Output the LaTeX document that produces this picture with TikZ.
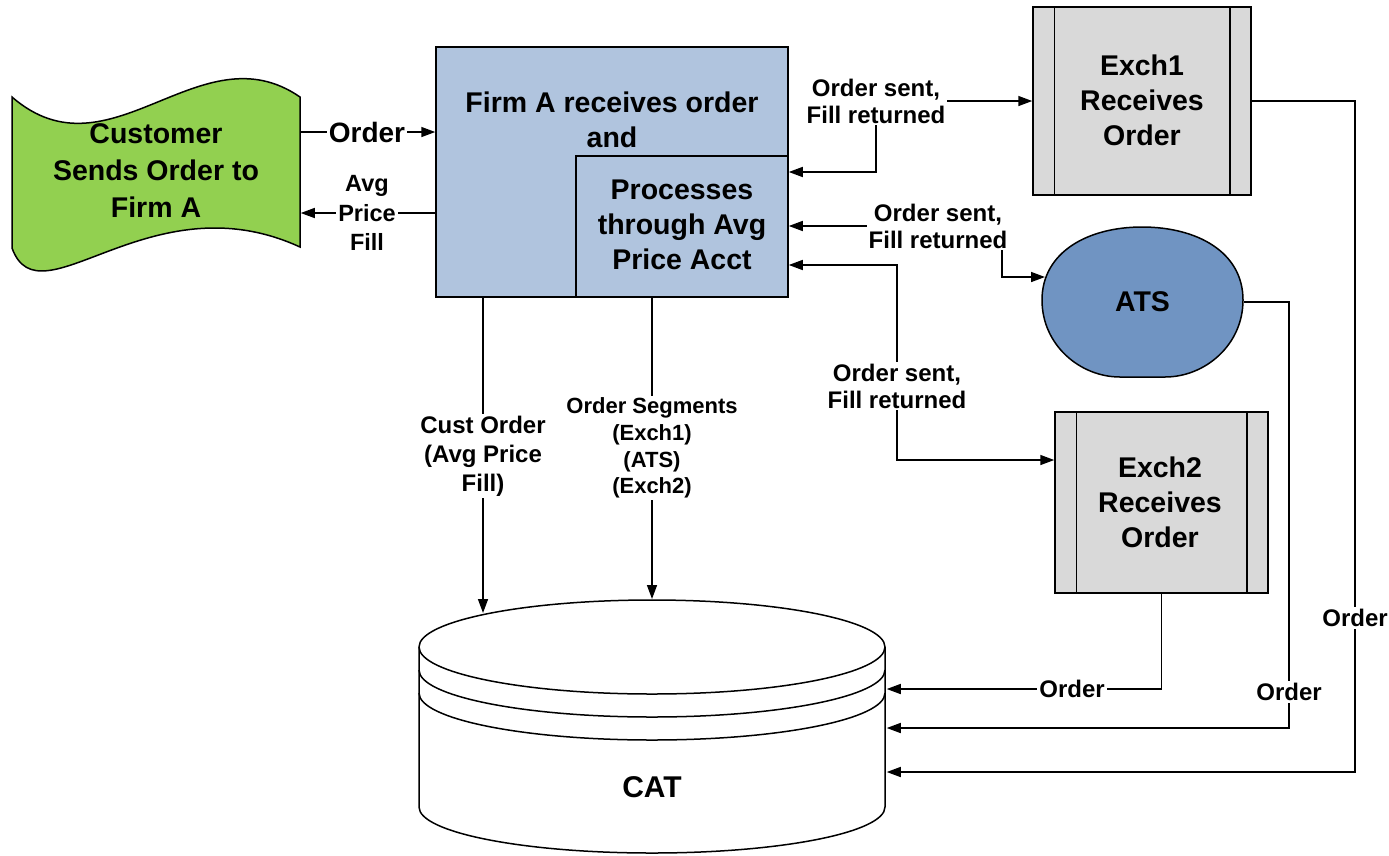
\documentclass[tikz,border=0pt]{standalone}
\usepackage{fontspec}
\setmainfont{Liberation Sans}
\usetikzlibrary{arrows.meta,calc}
\definecolor{custgreen}{HTML}{92D050}
\definecolor{firmblue}{HTML}{B0C4DE}
\definecolor{atsblue}{HTML}{7094C2}
\definecolor{exgray}{HTML}{D9D9D9}
\begin{document}
\begin{tikzpicture}[x=1pt,y=-1pt,line width=1.5pt,
  big/.style={font=\bfseries\fontsize{28.5}{35}\selectfont,align=center,inner sep=0pt},
  lbl/.style={font=\bfseries\fontsize{24}{27}\selectfont,align=center,fill=white,inner sep=2pt},
  lblbig/.style={font=\bfseries\fontsize{28}{34}\selectfont,align=center,fill=white,inner sep=2pt},
  box/.style={draw,inner sep=0pt},
  conn/.style={draw=black,line width=1.5pt,-{Triangle[length=14pt,width=10pt]}},
  conntwo/.style={draw=black,line width=1.5pt,{Triangle[length=14pt,width=10pt]}-{Triangle[length=14pt,width=10pt]}}]
\useasboundingbox (0,0) rectangle (1389,855);

% label positions and junctions
\coordinate (lOrd) at (367,132);
\coordinate (lAvg) at (367,213);
\coordinate (l1) at (876,101);
\coordinate (j1) at (876,172);
\coordinate (l2) at (938,226);
\coordinate (j2) at (1002,226);
\coordinate (j2b) at (1002,277);
\coordinate (atsW) at (1045,277);
\coordinate (l3) at (897,386);
\coordinate (j3) at (897,265);
\coordinate (j3b) at (897,460);
\coordinate (lCust) at (483,456);
\coordinate (lSeg) at (652,448);
\coordinate (catTopA) at (483,613);
\coordinate (catTopB) at (652,599);
\coordinate (lO1) at (1355,618);
\coordinate (j4) at (1355,772);
\coordinate (lO2) at (1289,692);
\coordinate (j5) at (1289,728);
\coordinate (lO3) at (1072,689);

% Customer (wavy document)
\draw[fill=custgreen] (12,97) .. controls (110,182) and (200,28) .. (300,97)
  -- (300,247) .. controls (150,178) and (40,325) .. (12,248) -- cycle;
\node[inner sep=0pt,minimum width=288,minimum height=150] (custbox) at (156,172) {};
\node[big,font=\bfseries\fontsize{28.5}{37}\selectfont] (cust) at (156,171) {Customer\\Sends Order to\\Firm A};

% Firm A
\node[box,fill=firmblue,minimum width=352,minimum height=250] (fa) at (612,172) {};
\node[box,fill=firmblue,minimum width=212,minimum height=141,anchor=south east] (fb) at (fa.south east) {};
\node[big] (fat) at (612,120) {Firm A receives order\\and};
\node[big] (fbt) at (682,225) {Processes\\through Avg\\Price Acct};

% Exch1
\node[box,fill=exgray,minimum width=218,minimum height=188] (e1) at (1142,101) {};
\draw ($(e1.north west)+(22,0)$) -- ($(e1.south west)+(22,0)$);
\draw ($(e1.north east)+(-22,0)$) -- ($(e1.south east)+(-22,0)$);
\node[big] (e1t) at (1142,100) {Exch1\\Receives\\Order};

% ATS
\draw[fill=atsblue] (1042,300) .. controls (1042,252) and (1088,227) .. (1142,227)
  .. controls (1197,227) and (1243,252) .. (1243,300)
  .. controls (1243,345) and (1205,377) .. (1165,377) -- (1120,377)
  .. controls (1080,377) and (1042,345) .. (1042,300) -- cycle;
\node[inner sep=0pt,minimum width=201,minimum height=150] (atsbox) at (1142.5,302) {};
\node[big] (ats) at (1142.5,302) {ATS};

% Exch2
\node[box,fill=exgray,minimum width=213,minimum height=181] (e2) at (1161.5,502.5) {};
\draw ($(e2.north west)+(22,0)$) -- ($(e2.south west)+(22,0)$);
\draw ($(e2.north east)+(-22,0)$) -- ($(e2.south east)+(-22,0)$);
\node[big] (e2t) at (1160,502) {Exch2\\Receives\\Order};

% CAT cylinder
\draw[fill=white] (419,647) -- (419,807) arc (180:0:233 and 46) -- (885,647) arc (0:-180:233 and 47) -- cycle;
\draw (419,647) arc (180:0:233 and 47);
\draw (419,670) arc (180:0:233 and 47);
\draw (419,693) arc (180:0:233 and 47);
\node[inner sep=0pt,minimum width=467,minimum height=253] (catbox) at (652.5,726.5) {};
\node[big,font=\bfseries\fontsize{30}{35}\selectfont] (cat) at (652,787) {CAT};

% connectors
\draw[conn] (custbox.east |- lOrd) -- (fa.west |- lOrd);
\draw[conn] (fa.west |- lAvg) -- (custbox.east |- lAvg);
\draw[conntwo] (fa.east |- j1) -- (j1) -- (l1) -- (e1.west |- l1);
\draw[conntwo] (fa.east |- l2) -- (j2) -- (j2b) -- (atsW);
\draw[conntwo] (fa.east |- j3) -- (j3) -- (j3b) -- (e2.west |- j3b);
\draw[conn] (fa.south -| lCust) -- (catTopA);
\draw[conn] (fa.south -| lSeg) -- (catTopB);
\draw[conn] (e1.east) -| (j4) -- (catbox.east |- j4);
\draw[conn] (atsbox.east) -| (j5) -- (catbox.east |- j5);
\draw[conn] (e2.south) |- (catbox.east |- lO3);

% labels
\node[lblbig] (tOrd) at (lOrd) {Order};
\node[lbl,font=\bfseries\fontsize{23.5}{29.5}\selectfont] (tAvg) at (lAvg) {Avg\\Price\\Fill};
\node[lbl] (t1) at (l1) {Order sent,\\Fill returned};
\node[lbl] (t2) at (l2) {Order sent,\\Fill returned};
\node[lbl] (t3) at (l3) {Order sent,\\Fill returned};
\node[lbl,font=\bfseries\fontsize{24}{29}\selectfont] (tCust) at (lCust) {Cust Order\\(Avg Price\\Fill)};
\node[lbl,font=\bfseries\fontsize{22}{26.7}\selectfont] (tSeg) at (lSeg) {Order Segments\\(Exch1)\\(ATS)\\(Exch2)};
\node[lbl] (tO1) at (lO1) {Order};
\node[lbl] (tO2) at (lO2) {Order};
\node[lbl] (tO3) at (lO3) {Order};
\end{tikzpicture}
\end{document}
